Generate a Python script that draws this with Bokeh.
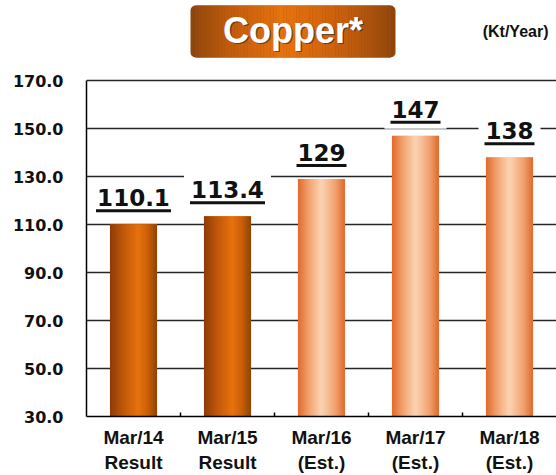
from bokeh.plotting import figure
from bokeh.models import FixedTicker, Range1d
from bokeh.core.properties import value
from bokeh.embed import file_html
from bokeh.resources import INLINE

# ---------------- data ----------------
categories = ["Mar/14", "Mar/15", "Mar/16", "Mar/17", "Mar/18"]
sublabels = ["Result", "Result", "(Est.)", "(Est.)", "(Est.)"]
values = [110.1, 113.4, 129, 147, 138]
value_labels = ["110.1", "113.4", "129", "147", "138"]
is_estimate = [False, False, True, True, True]
y_ticks = [30, 50, 70, 90, 110, 130, 150, 170]
title_text = "Copper*"
unit_text = "(Kt/Year)"

# ---------------- layout constants ----------------
Y_MIN, Y_MAX = 30, 170
PX = 2.4                       # screen px per data unit
HEAD_PX = 80                   # header space above the 170 line (px)
FRAME_W = 470
FRAME_H = int(round((Y_MAX - Y_MIN) * PX + HEAD_PX))
Y_TOP = Y_MAX + HEAD_PX / PX
BAR_W = 0.5
N_STRIPS = 24

RESULT_STOPS = [(0.0, "#8a3c08"), (0.25, "#b95307"), (0.6, "#e8720e"),
                (0.8, "#cb5f0a"), (1.0, "#8e4306")]
EST_STOPS = [(0.0, "#e2692a"), (0.2, "#ee9862"), (0.5, "#fbd4b4"),
             (0.8, "#f09e6c"), (1.0, "#e16a2a")]
TITLE_STOPS = [(0.0, "#8f460c"), (0.2, "#c25c0c"), (0.45, "#e8720e"),
               (0.75, "#c75e0c"), (1.0, "#8f460c")]


def _hex(c):
    c = c.lstrip("#")
    return [int(c[i:i + 2], 16) for i in (0, 2, 4)]


def grad(stops, t):
    for (t0, c0), (t1, c1) in zip(stops[:-1], stops[1:]):
        if t <= t1:
            f = 0 if t1 == t0 else (t - t0) / (t1 - t0)
            a, b = _hex(c0), _hex(c1)
            return "#%02x%02x%02x" % tuple(round(a[k] + (b[k] - a[k]) * f) for k in range(3))
    return stops[-1][1]


def text_width(s):
    return sum(16 if ch.isdigit() else 9 for ch in s)


# ---------------- figure ----------------
p = figure(frame_width=FRAME_W, frame_height=FRAME_H,
           x_range=Range1d(0, len(categories)), y_range=Range1d(Y_MIN, Y_TOP),
           output_backend="svg", toolbar_location=None,
           min_border_left=86, min_border_right=0, min_border_top=0,
           min_border_bottom=0)
p.outline_line_color = None
p.xgrid.visible = False
p.ygrid.ticker = FixedTicker(ticks=y_ticks[1:])
p.ygrid.grid_line_color = "#262626"
p.ygrid.grid_line_width = 1.5

# pixel-like helper ranges for the header decoration (frame pixels)
p.extra_x_ranges = {"px": Range1d(0, FRAME_W)}
p.extra_y_ranges = {"px": Range1d(0, FRAME_H)}

centers = [i + 0.5 for i in range(len(categories))]

yax = p.yaxis[0]
yax.ticker = FixedTicker(ticks=y_ticks)
yax.bounds = (Y_MIN, Y_MAX)
yax.major_label_overrides = {t: f"{t:.1f}" for t in y_ticks}
yax.axis_line_color = "black"
yax.axis_line_width = 1.5
yax.major_tick_out = 0
yax.major_tick_in = 0
yax.minor_tick_line_color = None
yax.major_label_standoff = 23
yax.major_label_text_font = "DejaVu Sans"
yax.major_label_text_font_style = "bold"
yax.major_label_text_font_size = "16px"
yax.major_label_text_color = "#111111"

xax = p.xaxis[0]
xax.ticker = FixedTicker(ticks=centers, minor_ticks=[1, 2, 3, 4])
xax.major_label_overrides = {c: f"{cat}\n{sub}" for c, cat, sub in zip(centers, categories, sublabels)}
xax.axis_line_color = "black"
xax.axis_line_width = 1.5
xax.major_tick_line_color = None
xax.major_tick_in = 0
xax.major_tick_out = 0
xax.minor_tick_in = 4
xax.minor_tick_out = 0
xax.minor_tick_line_color = "black"
xax.minor_tick_line_width = 1.5
xax.major_label_standoff = 10
xax.major_label_text_font = "Liberation Sans"
xax.major_label_text_font_style = "bold"
xax.major_label_text_font_size = "19px"
xax.major_label_text_color = "#111111"

# ---------------- header (title box + unit) ----------------
# frame-pixel coords: x from frame left, y from frame bottom
BOX_L, BOX_R = 104, 309
BOX_T = FRAME_H - 5
BOX_B = FRAME_H - 57
p.quad(left=[BOX_L], right=[BOX_R], bottom=[BOX_B], top=[BOX_T],
       fill_color=TITLE_STOPS[0][1], line_color=None, border_radius=5,
       x_range_name="px", y_range_name="px")
n_t = 60
inner_l, inner_r = BOX_L + 5, BOX_R - 5
sw_t = (inner_r - inner_l) / n_t
tl, tr, tc = [], [], []
for k in range(n_t):
    x0 = inner_l + k * sw_t
    tl.append(x0)
    tr.append(x0 + sw_t * 1.05)
    tc.append(grad(TITLE_STOPS, (x0 + sw_t / 2 - BOX_L) / (BOX_R - BOX_L)))
p.quad(left=tl, right=tr, bottom=BOX_B, top=BOX_T, fill_color=tc, line_color=None,
       x_range_name="px", y_range_name="px")

cx = (BOX_L + BOX_R) / 2
cy = FRAME_H - 30
p.text(x=[cx + 1.2], y=[cy - 1.2], text=[title_text], text_align="center",
       text_baseline="middle", text_font=value("Liberation Sans"),
       text_font_style="bold", text_font_size="36px", text_color="#3a2f3a",
       text_alpha=0.7, x_range_name="px", y_range_name="px")
p.text(x=[cx], y=[cy], text=[title_text], text_align="center",
       text_baseline="middle", text_font=value("Liberation Sans"),
       text_font_style="bold", text_font_size="36px", text_color="white",
       x_range_name="px", y_range_name="px")
p.text(x=[FRAME_W - 8], y=[FRAME_H - 31], text=[unit_text], text_align="right",
       text_baseline="middle", text_font=value("Liberation Sans"),
       text_font_style="bold", text_font_size="16px", text_color="#111111",
       x_range_name="px", y_range_name="px")

# ---------------- bars: base + gradient strips ----------------
base_colors = [grad(EST_STOPS if e else RESULT_STOPS, 0.5) for e in is_estimate]
p.vbar(x=centers, top=values, bottom=Y_MIN, width=BAR_W, fill_color=base_colors, line_color=None)
sx, stop_, scol = [], [], []
sw = BAR_W / N_STRIPS
for c, v, e in zip(centers, values, is_estimate):
    stops = EST_STOPS if e else RESULT_STOPS
    for k in range(N_STRIPS):
        sx.append(c - BAR_W / 2 + (k + 0.5) * sw)
        stop_.append(v)
        scol.append(grad(stops, (k + 0.5) / N_STRIPS))
p.vbar(x=sx, top=stop_, bottom=Y_MIN, width=sw * 1.08, fill_color=scol, line_color=None)

# ---------------- value labels: white backing, text, underline ----------------
widths = [text_width(s) for s in value_labels]
p.rect(x=centers, y=[v + 24.5 / PX for v in values], width=[w + 14 for w in widths],
       height=35, width_units="screen", height_units="screen",
       fill_color="white", line_color=None)
p.text(x=centers, y=[v + 26.5 / PX for v in values], text=value_labels,
       text_align="center", text_baseline="middle",
       text_font=value("DejaVu Sans"), text_font_style="bold",
       text_font_size="23px", text_color="#111111")
p.rect(x=centers, y=[v + 13.5 / PX for v in values], width=[w + 2 for w in widths],
       height=3, width_units="screen", height_units="screen",
       fill_color="#111111", line_color=None)

open("out.html", "w").write(file_html(p, INLINE))
